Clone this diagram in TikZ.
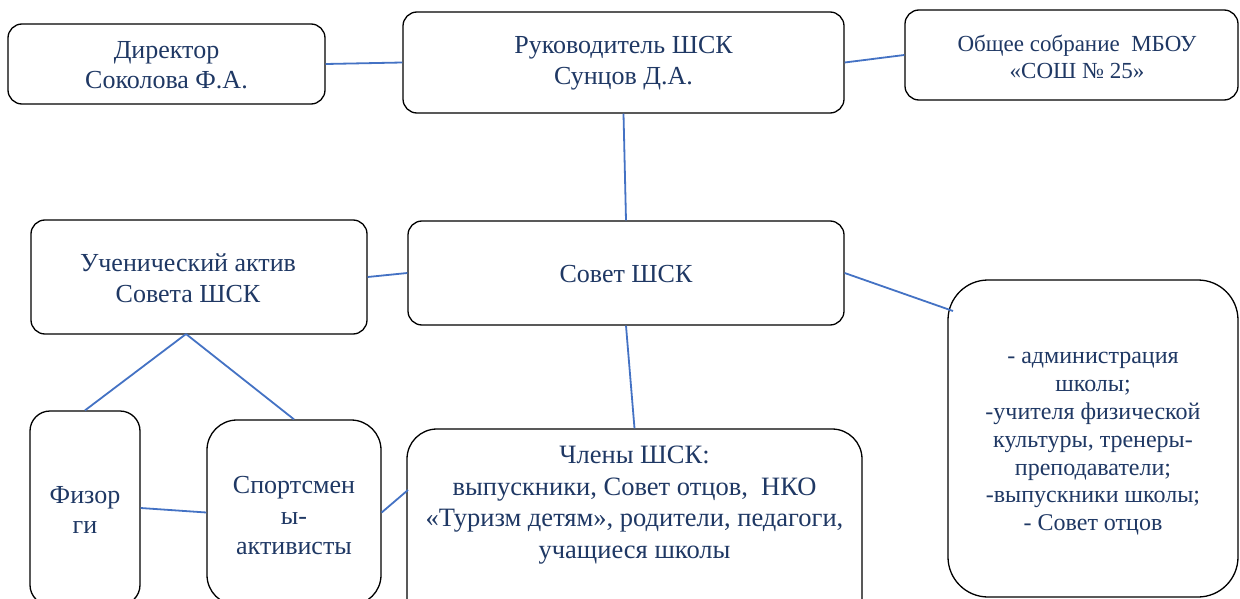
\documentclass[tikz,border=0pt]{standalone}
\usepackage{fontspec}
\setmainfont{Liberation Serif}
\usetikzlibrary{calc}
\definecolor{txtc}{RGB}{31,56,100}
\definecolor{linec}{RGB}{68,114,196}
\tikzset{
  box/.style={draw=black, line width=1.3pt, rounded corners=#1, inner sep=0pt},
  box/.default=14pt,
  txt/.style={text=txtc, align=center, inner sep=0pt, font=\fontsize{26}{30.5}\selectfont},
  conn/.style={draw=linec, line width=1.8pt}
}
\begin{document}
\begin{tikzpicture}[x=1pt,y=-1pt]
\useasboundingbox (0,0) rectangle (1240,599);
\fill[white] (0,0) rectangle (1240,599);
\begin{scope}
\clip (0,0) rectangle (1240,599);
% boxes
\node[box, minimum width=317pt, minimum height=80pt] (dir) at (166.5,64) {};
\node[box, minimum width=441pt, minimum height=101pt] (ruk) at (623.5,62.5) {};
\node[box, minimum width=333pt, minimum height=90pt] (obs) at (1071.5,55) {};
\node[box, minimum width=336pt, minimum height=114pt] (uch) at (199,277) {};
\node[box, minimum width=436pt, minimum height=104pt] (sov) at (626,273) {};
\node[box=40pt, minimum width=290pt, minimum height=317pt] (sost) at (1093,438.5) {};
\node[box=20pt, minimum width=110pt, minimum height=194pt] (fiz) at (85,508) {};
\node[box=30pt, minimum width=174pt, minimum height=185pt] (spo) at (294,512.5) {};
\node[box=30pt, minimum width=455pt, minimum height=200pt] (chl) at (634.5,529) {};
% texts
\node[txt] at (166.5,65) {Директор\\Соколова Ф.А.};
\node[txt] at (623.5,63) {Руководитель ШСК\\Сунцов Д.А.};
\node[txt, font=\fontsize{23}{27}\selectfont] at (1077,57) {Общее собрание\ \ МБОУ\\«СОШ № 25»};
\node[txt] at (188,278) {Ученический актив\\Совета ШСК};
\node[txt] at (626,274) {Совет ШСК};
\node[txt, font=\fontsize{24}{27.8}\selectfont] at (1093,444) {- администрация\\школы;\\-учителя физической\\культуры, тренеры-\\преподаватели;\\-выпускники школы;\\- Совет отцов};
\node[txt] at (85,510) {Физор\\ги};
\node[txt] at (294,516) {Спортсмен\\ы-\\активисты};
\node[txt, font=\fontsize{26.5}{31.5}\selectfont] at (634.5,505) {Члены ШСК:\\выпускники, Совет отцов,\ \ НКО\\«Туризм детям», родители, педагоги,\\учащиеся школы};
% connectors
\coordinate (sostc) at (953,311);
\coordinate (uchs) at (186,334);
\coordinate (chlw) at (408,490);
\draw[conn] (dir.east) -- (ruk.west);
\draw[conn] (ruk.east) -- (obs.west);
\draw[conn] (ruk.south) -- (sov.north);
\draw[conn] (uch.east) -- (sov.west);
\draw[conn] (sov.east) -- (sostc);
\draw[conn] (sov.south) -- (chl.north);
\draw[conn] (uchs) -- (fiz.north);
\draw[conn] (uchs) -- (spo.north);
\draw[conn] (fiz.east) -- (spo.west);
\draw[conn] (spo.east) -- (chlw);
\end{scope}
\end{tikzpicture}
\end{document}
